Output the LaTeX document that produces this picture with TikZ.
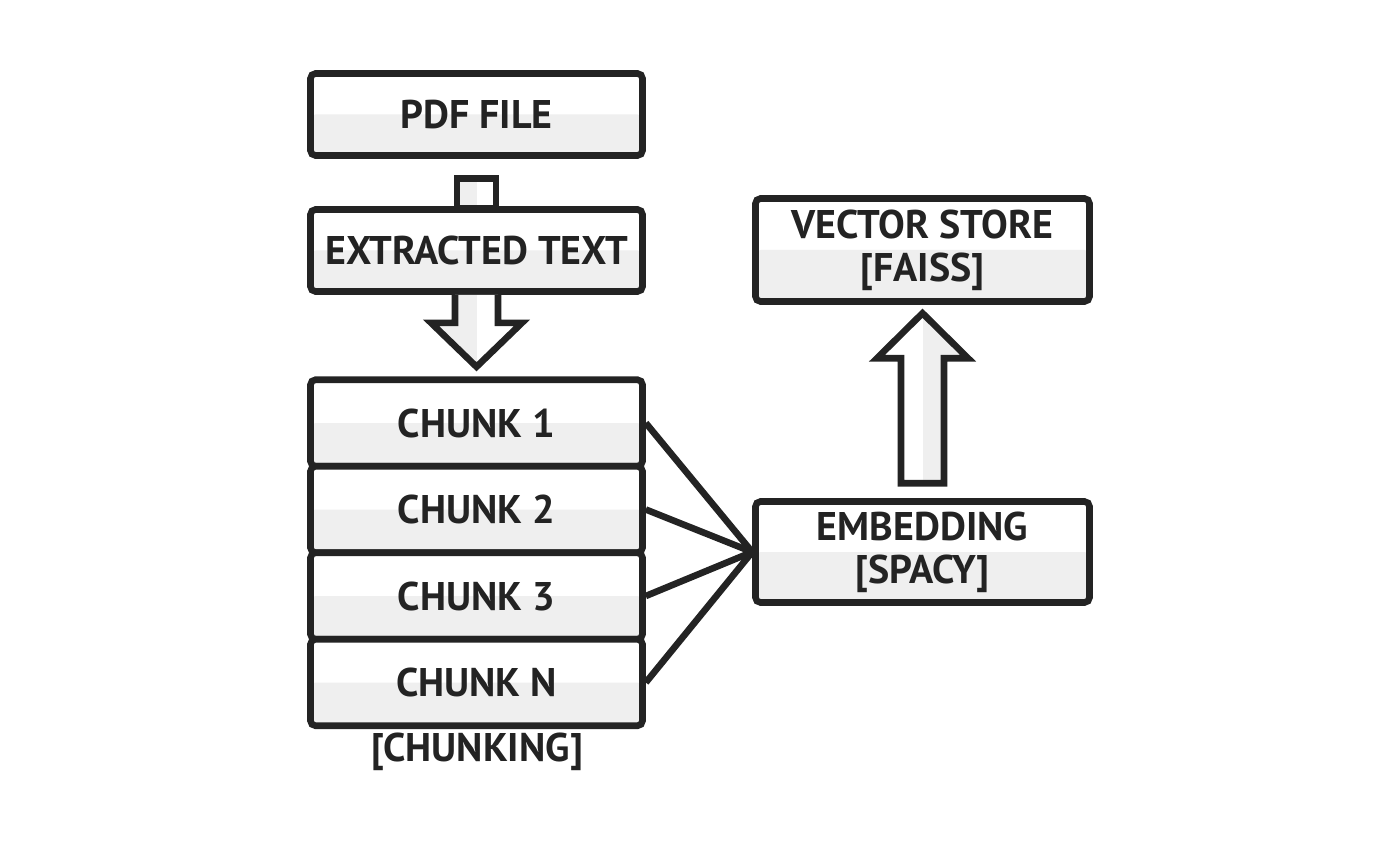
\documentclass[tikz,border=0pt]{standalone}
\usepackage{fontspec}
\setmainfont{PT Sans}
\usetikzlibrary{calc}
\pgfdeclarelayer{background}
\pgfsetlayers{background,main}
\definecolor{ink}{HTML}{232323}
\definecolor{pale}{HTML}{EFEFEF}
\tikzset{
  x=0.5pt, y=-0.5pt,
  box/.style={draw=ink, line width=3.3pt, rounded corners=2.5pt, fill=white,
    minimum width=166pt, minimum height=41pt, inner sep=0pt, align=center,
    font=\fontsize{20}{21.5}\selectfont\bfseries, text=ink,
    path picture={\fill[pale] (path picture bounding box.west) rectangle (path picture bounding box.south east);}},
  chunkbox/.style={box, minimum height=43.25pt},
  arrowl/.style={draw=ink, line width=3.3pt, fill=white, line join=miter,
    path picture={\fill[pale] (path picture bounding box.north west) rectangle (path picture bounding box.south);}},
  arrowr/.style={draw=ink, line width=3.3pt, fill=white, line join=miter,
    path picture={\fill[pale] (path picture bounding box.north) rectangle (path picture bounding box.south east);}},
  link/.style={draw=ink, line width=3.3pt},
  lbl/.style={font=\fontsize{20}{21.5}\selectfont\bfseries, text=ink, inner sep=0pt}
}
\begin{document}
\begin{tikzpicture}
\useasboundingbox (0,0) rectangle (1400,855);
% boxes
\node[box] (pdf) at (476.5,114.5) {PDF FILE};
\node[box] (ext) at (476.5,250.5) {EXTRACTED TEXT};
\node[chunkbox] (c1) at (476.5,423) {CHUNK 1};
\node[chunkbox] (c2) at (476.5,509.5) {CHUNK 2};
\node[chunkbox] (c3) at (476.5,596) {CHUNK 3};
\node[chunkbox] (cn) at (476.5,682.5) {CHUNK N};
\node[lbl] (chk) at (477,752) {[CHUNKING]};
\node[box, minimum width=167pt, minimum height=50.5pt] (emb) at (922.5,552) {EMBEDDING\\{}[SPACY]};
\node[box, minimum width=167pt, minimum height=51.5pt] (vec) at (922.5,250) {VECTOR STORE\\{}[FAISS]};
% arrows (behind boxes)
\begin{pgfonlayer}{background}
\draw[arrowl] ($(pdf.south)+(-19.5,20)$) rectangle ($(ext.north)+(19.5,2)$);
\end{pgfonlayer}
\draw[arrowl] ($(ext.south)+(-21.5,0)$) -- ++(0,28) -- ++(-24,0) -- ++(45.5,44) -- ++(45.5,-44) -- ++(-24,0) -- ++(0,-28);
\draw[arrowr] ($(emb.north)+(-21.5,-15)$) -- ++(0,-125) -- ++(-24,0) -- ++(45.5,-45) -- ++(45.5,45) -- ++(-24,0) -- ++(0,125) -- cycle;
% connectors
\foreach \c in {c1,c2,c3,cn}{\draw[link] (\c.east) -- (emb.west);}
\end{tikzpicture}
\end{document}
